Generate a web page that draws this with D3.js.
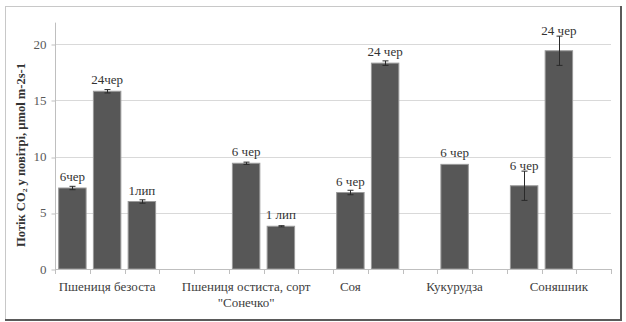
<!DOCTYPE html>
<html>
<head>
<meta charset="utf-8">
<script src="https://cdn.jsdelivr.net/npm/d3@7/dist/d3.min.js"></script>
<style>
  html, body { margin: 0; padding: 0; background: #fff; }
  svg { display: block; }
</style>
</head>
<body>
<svg id="chart" width="626" height="322" font-family="Liberation Serif"></svg>
<script>
// Category slots along the x axis (empty slots leave gaps between crops)
const categories = [
  "", "Пшениця безоста", "", "", "",
  "Пшениця остиста, сорт\n\"Сонечко\"", "", "",
  "Соя", "", "", "Кукурудза", "", "", "Соняшник", ""
];
// CO2 flux per slot (null = no bar)
const fluxValues = [7.2, 15.8, 6.0, null, null, 9.4, 3.8, null, 6.8, 18.3, null, 9.3, null, 7.4, 19.4, null];
// Standard error per slot
const fluxErrors = [0.15, 0.15, 0.15, null, null, 0.1, 0.05, null, 0.2, 0.2, null, 0, null, 1.3, 1.3, null];
// Sampling date shown above each bar
const dateLabels = ["6чер", "24чер", "1лип", "", "", "6 чер", "1 лип", "", "6 чер", "24 чер", "", "6 чер", "", "6 чер", "24 чер", ""];
const yTicks = [0, 5, 10, 15, 20];
const yAxisMax = 21.9;
const yTitle = "Потік СО₂ у повітрі, µmol m-2s-1";

const FONT = "Liberation Serif";
const svg = d3.select("#chart");

// Chart frame
svg.append("rect").attr("x", 5.5).attr("y", 6.5).attr("width", 615).attr("height", 313)
  .attr("fill", "#fff").attr("stroke", "#c8c8c8");
svg.append("line").attr("x1", 5).attr("x2", 622).attr("y1", 320).attr("y2", 320)
  .attr("stroke", "#5a5a5a").attr("stroke-width", 2);
svg.append("line").attr("x1", 621).attr("x2", 621).attr("y1", 6).attr("y2", 321)
  .attr("stroke", "#5a5a5a").attr("stroke-width", 2);

const plot = { left: 55, right: 611, bottom: 269, top20: 44 };

const x = d3.scaleBand().domain(d3.range(categories.length))
  .range([plot.left, plot.right]).padding(0);
const y = d3.scaleLinear().domain([0, 20]).range([plot.bottom, plot.top20]);

// Horizontal gridlines
svg.append("g").selectAll("line").data(yTicks.filter(d => d > 0)).join("line")
  .attr("x1", plot.left).attr("x2", plot.right)
  .attr("y1", d => Math.round(y(d)) + 0.5).attr("y2", d => Math.round(y(d)) + 0.5)
  .attr("stroke", "#d9d9d9");

// Y axis
const yAxis = svg.append("g").attr("transform", `translate(${plot.left + 0.5},0)`)
  .call(d3.axisLeft(y).tickValues(yTicks).tickSize(4).tickPadding(5));
yAxis.attr("font-family", FONT).attr("font-size", 13);
yAxis.select(".domain").remove();
yAxis.append("line").attr("x1", 0).attr("x2", 0)
  .attr("y1", y(yAxisMax)).attr("y2", plot.bottom).attr("stroke", "#bfbfbf");
yAxis.selectAll(".tick line").attr("stroke", "#bfbfbf")
  .attr("transform", d => `translate(0,${Math.round(y(d)) + 0.5 - y(d)})`);
yAxis.selectAll(".tick text").attr("fill", "#595959");

// Y title, sized to span the axis height
const title = svg.append("text")
  .attr("text-anchor", "middle").attr("font-size", 10).attr("font-weight", "bold")
  .attr("font-family", FONT).attr("fill", "#333").text(yTitle);
const titleLen = title.node().getComputedTextLength();
title.attr("font-size", 10 * 184 / titleLen)
  .attr("transform", `translate(25,155) rotate(-90)`);

// Bars
const barW = x.bandwidth() * 0.79;
const barData = fluxValues.map((v, i) => ({ i, v, e: fluxErrors[i], label: dateLabels[i] }))
  .filter(d => d.v != null);

svg.append("g").selectAll("rect").data(barData).join("rect")
  .attr("x", d => x(d.i) + (x.bandwidth() - barW) / 2)
  .attr("y", d => y(d.v))
  .attr("width", barW)
  .attr("height", d => plot.bottom - y(d.v))
  .attr("fill", "#575757").attr("stroke", "#9a9a9a").attr("stroke-width", 1);

// X axis line and slot ticks
svg.append("line").attr("x1", plot.left).attr("x2", plot.right)
  .attr("y1", plot.bottom + 0.5).attr("y2", plot.bottom + 0.5).attr("stroke", "#bfbfbf");
svg.append("g").selectAll("line").data(d3.range(categories.length + 1)).join("line")
  .attr("x1", i => Math.round(plot.left + i * x.step()) + 0.5)
  .attr("x2", i => Math.round(plot.left + i * x.step()) + 0.5)
  .attr("y1", plot.bottom).attr("y2", plot.bottom + 5).attr("stroke", "#bfbfbf");

// Error bars
const eb = svg.append("g").attr("stroke", "#2a2a2a").attr("stroke-width", 1);
barData.filter(d => d.e > 0).forEach(d => {
  const cx = Math.round(x(d.i) + x.bandwidth() / 2) + 0.5;
  eb.append("line").attr("x1", cx).attr("x2", cx).attr("y1", y(d.v + d.e)).attr("y2", y(d.v - d.e));
  [d.v + d.e, d.v - d.e].forEach(v => {
    eb.append("line").attr("x1", cx - 3).attr("x2", cx + 3).attr("y1", y(v)).attr("y2", y(v));
  });
});

// Date labels above bars
svg.append("g").attr("font-family", FONT).attr("font-size", 13)
  .selectAll("text").data(barData).join("text")
  .attr("x", d => x(d.i) + x.bandwidth() / 2)
  .attr("y", d => y(d.v) - (d.e >= 1 ? 20 : 11) + 4)
  .attr("text-anchor", "middle").attr("fill", "#333")
  .text(d => d.label);

// Category labels
const catG = svg.append("g").attr("font-family", FONT).attr("font-size", 13);
categories.forEach((c, i) => {
  if (!c) return;
  const t = catG.append("text")
    .attr("x", x(i) + x.bandwidth() / 2).attr("y", 291)
    .attr("text-anchor", "middle").attr("fill", "#404040");
  c.split("\n").forEach((line, k) => {
    t.append("tspan").attr("x", x(i) + x.bandwidth() / 2).attr("dy", k === 0 ? 0 : 16).text(line);
  });
});
</script>
</body>
</html>
